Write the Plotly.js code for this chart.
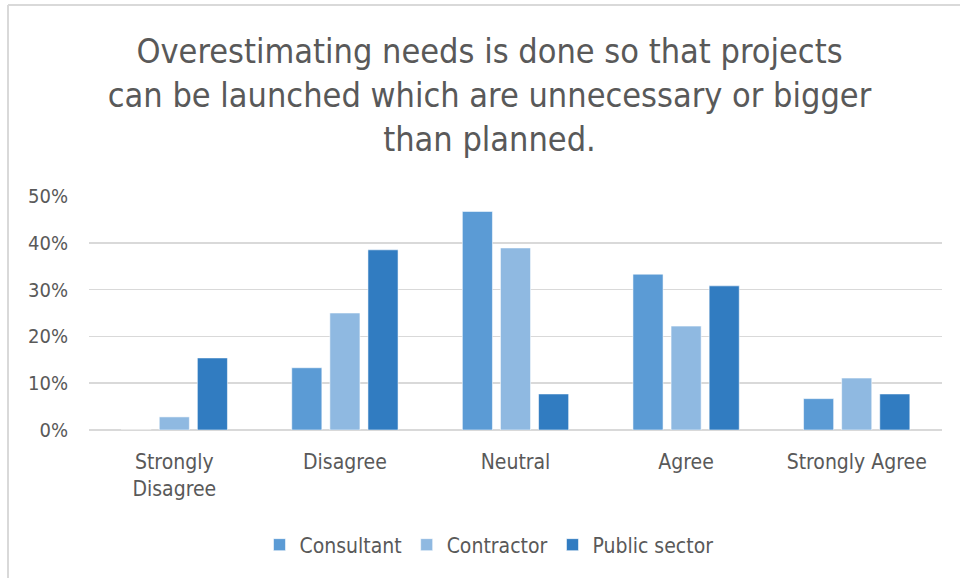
<!DOCTYPE html>
<html>
<head>
<meta charset="utf-8">
<script src="https://cdn.plot.ly/plotly-3.0.1.min.js"></script>
<style>html,body{margin:0;padding:0;background:#fff}#chart{width:960px;height:578px}</style>
</head>
<body>
<div id="chart"></div>
<script>
var categories = ["Strongly<br>Disagree", "Disagree", "Neutral", "Agree", "Strongly Agree"];
var consultant = [0, 0.133, 0.467, 0.333, 0.067];
var contractor = [0.028, 0.25, 0.389, 0.222, 0.111];
var publicSector = [0.154, 0.385, 0.077, 0.308, 0.077];
var seriesNames = ["Consultant", "Contractor", "Public sector"];
var tickVals = [0, 0.1, 0.2, 0.3, 0.4, 0.5];

var FONT = "'DejaVu Sans Condensed', 'Open Sans', sans-serif";
var colors = ["#5B9BD5", "#8FB9E1", "#317CC1"];
var data = [consultant, contractor, publicSector].map(function (vals, i) {
  return {
    type: "bar",
    name: seriesNames[i],
    x: categories,
    y: vals,
    marker: {color: colors[i], line: {color: "rgba(255,255,255,0.55)", width: 1}},
    hoverinfo: "x+y+name"
  };
});

var L = 89, R = 18, T = 196, B = 148, W = 960, H = 578;
var pw = W - L - R, ph = H - T - B;
function px(x) { return (x - L) / pw; }
function py(y) { return (H - B - y) / ph; }

var layout = {
  width: W, height: H,
  paper_bgcolor: "#fff", plot_bgcolor: "#fff",
  margin: {l: L, r: R, t: T, b: B},
  font: {family: FONT, color: "#595959", size: 20},
  title: {
    text: "Overestimating needs is done so that projects<br>can be launched which are unnecessary or bigger<br>than planned.",
    font: {family: FONT, size: 34, color: "#595959"},
    x: 489.5 / W, xanchor: "center",
    y: 1 - 63 / H, yanchor: "top"
  },
  barmode: "group",
  bargap: 0.33,
  bargroupgap: 0.21,
  xaxis: {
    showgrid: false, showline: false, zeroline: false, ticks: "",
    ticklabelstandoff: 17,
    tickfont: {family: FONT, size: 21, color: "#595959"},
    fixedrange: true
  },
  yaxis: {
    range: [0, 0.5], tickvals: tickVals, tickformat: ".0%",
    showgrid: true, gridcolor: "#D9D9D9", gridwidth: 1.5,
    zeroline: true, zerolinecolor: "#D9D9D9", zerolinewidth: 1.5,
    showline: false, ticks: "", ticklabelstandoff: 20,
    tickfont: {family: FONT, size: 20, color: "#595959"},
    fixedrange: true
  },
  showlegend: true,
  legend: {
    orientation: "h", x: px(489), xanchor: "center", y: py(545), yanchor: "middle",
    font: {family: FONT, size: 21, color: "#595959"},
    itemwidth: 30, tracegroupgap: 0
  },
  shapes: [
    {type: "line", xref: "paper", yref: "paper", x0: px(8), x1: px(960), y0: py(5), y1: py(5), line: {color: "#D9D9D9", width: 2}},
    {type: "line", xref: "paper", yref: "paper", x0: px(8), x1: px(8), y0: py(5), y1: py(578), line: {color: "#D9D9D9", width: 2}}
  ]
};

Plotly.newPlot("chart", data, layout, {displayModeBar: false, staticPlot: true});
</script>
</body>
</html>
